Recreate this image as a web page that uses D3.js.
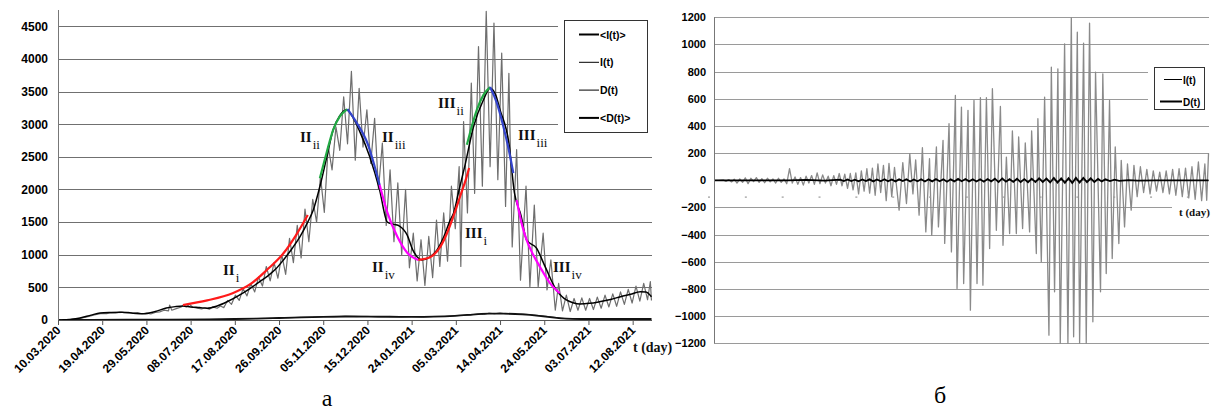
<!DOCTYPE html>
<html><head><meta charset="utf-8">
<script src="https://cdn.jsdelivr.net/npm/d3@7"></script>
<style>
html,body{margin:0;padding:0;background:#fff;}
svg{display:block;}
.ax text{font-family:"Liberation Sans",Arial,sans-serif;font-weight:bold;font-size:11.5px;fill:#000;}
.rn{font-family:"Liberation Serif","Times New Roman",serif;font-weight:bold;font-size:15px;fill:#111;}
.sub{font-family:"Liberation Serif","Times New Roman",serif;font-weight:normal;font-size:13px;fill:#111;}
.lg{font-family:"Liberation Sans",Arial,sans-serif;font-weight:bold;font-size:10.5px;fill:#000;}
</style></head><body>
<svg id="c" width="1219" height="410"></svg>
<script>
// ---------- DATA ----------
const dateLabels = ["10.03.2020","19.04.2020","29.05.2020","08.07.2020","17.08.2020","26.09.2020","05.11.2020","15.12.2020","24.01.2021","05.03.2021","14.04.2021","24.05.2021","03.07.2021","12.08.2021"];
const tickDays = [0,40,80,120,160,200,240,280,320,360,400,440,480,520];
const yTicksLeft = [0,500,1000,1500,2000,2500,3000,3500,4000,4500];
const yTicksRight = [-1200,-1000,-800,-600,-400,-200,0,200,400,600,800,1000,1200];

// day index (from 10.03.2020), value
const I_t = [[4,2],[8,6],[12,10],[16,18],[20,25],[24,38],[28,55],[32,75],[36,90],[40,102],[44,98],[48,112],[52,108],[56,120],[60,112],[64,118],[68,104],[72,112],[76,96],[80,105],[84,92],[88,115],[92,125],[96,150],[100,140],[101,230],[103,150],[107,175],[111,195],[114,225],[116,200],[119,240],[122,195],[126,180],[130,170],[133,190],[137,165],[140,200],[144,180],[147,215],[150,190],[153.5,300],[157,240],[160.5,380],[164,300],[167.5,480],[171,370],[174.5,560],[178,430],[181.5,660],[185,520],[188.5,820],[192,600],[195.5,880],[199,640],[202.5,1000],[206,700],[209.5,1250],[213,880],[216.5,1450],[220,950],[223.5,1700],[227,1200],[230.5,1850],[234,1500],[237.5,2200],[241,1650],[244.5,2660],[248,2300],[251.5,2960],[255,2600],[258.5,3420],[262,2700],[265.5,3810],[269,2450],[272.5,3550],[276,2650],[279.5,3220],[283,2400],[286.5,3090],[290,2000],[293.5,2710],[297,1450],[300.5,2300],[304,1200],[307.5,2100],[311,1000],[314.5,2000],[318,800],[321.5,1330],[325,600],[328.5,1230],[332,530],[335.5,1280],[339,650],[342.5,1530],[345.5,820],[349,1640],[352.5,900],[356,2050],[359.5,1400],[363,2350],[364.5,820],[367,3040],[370.5,1640],[374,3630],[377,1940],[380.5,4190],[384,2050],[387.5,4730],[391,2350],[394.5,4550],[398,2150],[401.5,4090],[405,1740],[408,3780],[411,1120],[415,2610],[418.5,610],[423.5,2050],[427,510],[431,1760],[434.5,510],[439,1330],[442.5,460],[446,920],[450,150],[453,560],[456.5,140],[460,380],[463.5,130],[467,330],[470.5,150],[474,340],[477.5,150],[481,330],[484.5,160],[488,350],[491.5,180],[495,380],[498.5,200],[502,400],[505.5,210],[509,430],[512.5,240],[516,470],[519.5,260],[523,520],[526.5,290],[530,560],[533.5,310],[536,590],[537,300]];

const I_avg = [[4,0],[10,8],[20,30],[30,75],[38,107],[48,115],[58,118],[68,105],[77,95],[88,130],[98,184],[106,205],[113,215],[120,200],[128,190],[135,180],[144,215],[153,280],[163,370],[174,486],[182,580],[189,665],[197,780],[204,920],[212,1100],[219,1278],[226,1500],[231,1687],[237,2045],[243,2480],[249,2914],[255,3130],[261,3220],[267,3100],[273,2890],[282,2505],[291,1994],[298,1500],[304,1465],[309,1440],[316,1300],[321,1074],[326,950],[329,920],[336,960],[343,1074],[349,1270],[355,1534],[358,1640],[363,2000],[368,2350],[376,2960],[385,3374],[391,3550],[396,3450],[400,3220],[408,2710],[413,1950],[419,1600],[424,1227],[433,1100],[441,810],[451,460],[456,360],[460,307],[466,265],[472,245],[481,255],[490,280],[500,315],[509,357],[518,395],[527,434],[532,430],[537,357]];

const D_t = [[0,0],[20,2],[40,4],[60,6],[80,5],[100,6],[120,5],[140,9],[150,10],[160,14],[170,20],[180,24],[190,26],[200,32],[210,35],[220,42],[230,44],[240,52],[250,50],[260,58],[270,52],[280,56],[290,48],[300,54],[310,46],[320,52],[330,45],[340,54],[350,55],[360,66],[370,72],[380,92],[385,84],[390,105],[395,96],[400,108],[405,94],[410,100],[415,88],[420,94],[430,78],[440,62],[450,40],[460,20],[470,15],[480,18],[500,14],[520,16],[537,14]];
const D_avg = [[0,0],[30,2],[60,5],[100,5],[140,8],[160,15],[180,22],[200,30],[220,40],[240,50],[260,55],[280,52],[300,50],[320,48],[340,50],[360,62],[375,85],[390,100],[405,98],[420,88],[435,65],[450,35],[460,18],[470,15],[500,15],[537,15]];

// fitted segments
const fitIIi   = [[113,230],[135,300],[158,410],[175,560],[189,767],[204,1022],[215,1290],[226,1610]];
const fitIIii  = [[237,2173],[243,2560],[249,2914],[255,3120],[262,3231]];
const fitIIiii = [[262,3231],[270,3030],[280,2710],[291,2070]];
const fitIIiv  = [[291,2070],[298,1650],[307,1278],[316,1030],[326,920]];
const fitIIIi  = [[326,920],[337,965],[346,1124],[352,1330],[358,1600],[364,1900],[369,2150],[372,2330]];
const fitIIIii = [[370,2684],[375,3000],[379,3220],[385,3450],[391,3569]];
const fitIIIiii= [[391,3569],[397,3330],[403,2965],[408,2600],[412,2250]];
const fitIIIiv = [[415,1840],[420,1450],[424,1227],[430,1000],[436,818],[445,570],[454,410]];

// right panel: residual oscillations
const R_I = [[0,0],[5,0],[10,3],[13,-8],[16,5],[19,-12],[22,8],[25,-20],[28,10],[31,-15],[34,18],[37,-25],[40,15],[43,-10],[46,20],[49,-15],[52,12],[55,-18],[58,15],[61,-12],[64,10],[67,-20],[70,15],[73,-15],[76,10],[79,-25],[82,86],[85,-20],[88,25],[91,-30],[94,20],[97,-35],[100,30],[103,-20],[106,35],[109,-30],[112,55],[115,-25],[118,40],[121,-20],[124,30],[127,-40],[130,35],[133,-30],[136,50],[139,-40],[142,45],[145,-60],[148,50],[151,-70],[154,55],[157,-100],[160,70],[163,-80],[166,85],[169,-95],[172,90],[175,-110],[178,120],[181,-90],[184,110],[187,-150],[190,125],[193,-120],[196,95],[201,-220],[205,130],[209,-171],[212.6,196],[216,-100],[219,150],[222.7,-257],[226.3,240],[230,-380],[234,159],[236.4,-404],[241.5,245],[243.7,-343],[248.7,294],[250.5,-465],[255.2,417],[257.8,-527],[262.1,625],[263.9,-797],[268.7,539],[271.1,-760],[275.8,515],[278.4,-956],[282.3,588],[285.6,-760],[289.3,608],[292,-772],[295.8,608],[299.3,-502],[302.3,674],[306.6,-368],[311,544],[313.8,-478],[317.5,171],[321,-392],[324,363],[328.3,-392],[330.8,319],[335.1,-355],[338,275],[342.7,-380],[344.9,363],[350,-539],[351.7,453],[355.4,-600],[359,613],[363.7,-1140],[366.3,833],[369.8,-821],[373.4,821],[376,-1200],[380.7,1005],[384.3,-1200],[388,1196],[390.5,-1152],[394.5,1090],[397,-1200],[401.3,1010],[404.2,-1200],[407.8,1157],[411.4,-1042],[414.3,797],[419.7,-821],[422.2,784],[425.9,-686],[429.5,588],[432.4,-576],[435.7,245],[439.6,-466],[442.2,147],[445.8,-343],[449,120],[453,-220],[456,110],[459.5,-120],[463,100],[466.5,-90],[470,80],[473.5,-100],[477,70],[480.5,-80],[484,60],[487.5,-90],[491,70],[494.5,-100],[498,80],[501.5,-110],[505,85],[508.5,-120],[512,90],[515.5,-130],[519,100],[522.5,-140],[526,135],[529.5,-150],[533,120],[535,-147],[537,200]];

const R_D = [[0,0],[80,0],[100,3],[120,-3],[137,5],[141,-5],[145,6],[149,-6],[153,5],[157,-7],[161,6],[165,-6],[169,7],[173,-8],[177,6],[181,-7],[185,8],[189,-7],[193,6],[197,-8],[201,7],[205,-6],[209,8],[213,-9],[217,6],[221,-7],[225,8],[229,-9],[233,7],[237,-8],[241,9],[245,-7],[249,8],[253,-10],[257,7],[261,-8],[265,10],[269,-7],[273,9],[277,-8],[281,7],[285,-9],[289,8],[293,-10],[297,9],[301,-8],[305,12],[309,-13],[313,14],[317,-10],[321,8],[325,-12],[329,11],[333,-13],[337,9],[341,-14],[345,12],[349,-13],[353,15],[357,-12],[361,13],[365,-16],[369,18],[373,-17],[377,14],[381,-18],[385,16],[389,-20],[393,18],[397,-16],[401,17],[405,-14],[409,15],[413,-12],[417,10],[421,-8],[425,7],[430,-6],[435,5],[440,-4],[450,2],[460,-2],[480,0],[537,0]];

// ---------- DRAW ----------
const svg = d3.select("#c");
const xL = d3.scaleLinear().domain([0,537.5]).range([58,652]);
const yL = d3.scaleLinear().domain([0,4750]).range([320,10]);
const xR = d3.scaleLinear().domain([0,537.5]).range([714,1209]);
const yR = d3.scaleLinear().domain([-1200,1200]).range([343.3,17.3]);

const lineL = d3.line().x(d=>xL(d[0])).y(d=>yL(d[1]));
const lineR = d3.line().x(d=>xR(d[0])).y(d=>yR(d[1]));

// left gridlines
svg.append("g").selectAll("line").data(yTicksLeft.filter(v=>v>0)).join("line")
  .attr("x1",xL(0)).attr("x2",652).attr("y1",d=>Math.round(yL(d))+0.5).attr("y2",d=>Math.round(yL(d))+0.5)
  .attr("stroke","#707070").attr("stroke-width",1);
// right gridlines
svg.append("g").selectAll("line").data(yTicksRight).join("line")
  .attr("x1",714).attr("x2",1209).attr("y1",d=>Math.round(yR(d))+0.5).attr("y2",d=>Math.round(yR(d))+0.5)
  .attr("stroke","#9a9a9a").attr("stroke-width",1.2);

// left data
svg.append("path").datum(D_t).attr("d",lineL).attr("fill","none").attr("stroke","#555").attr("stroke-width",1);
svg.append("path").datum(I_t).attr("d",lineL).attr("fill","none").attr("stroke","#6e6e6e").attr("stroke-width",1.2).attr("stroke-linejoin","round");
svg.append("path").datum(D_avg).attr("d",d3.line().x(d=>xL(d[0])).y(d=>yL(d[1])).curve(d3.curveBasis)).attr("fill","none").attr("stroke","#111").attr("stroke-width",1.8);
svg.append("path").datum(I_avg).attr("d",d3.line().x(d=>xL(d[0])).y(d=>yL(d[1])).curve(d3.curveMonotoneX)).attr("fill","none").attr("stroke","#000").attr("stroke-width",1.5);

const fits = [[fitIIi,"#ff1a1a"],[fitIIii,"#22aa44"],[fitIIiii,"#3344cc"],[fitIIiv,"#ff00ff"],[fitIIIi,"#ff1a1a"],[fitIIIii,"#22aa44"],[fitIIIiii,"#3344cc"],[fitIIIiv,"#ff00ff"]];
const fitLine = d3.line().x(d=>xL(d[0])).y(d=>yL(d[1])).curve(d3.curveMonotoneX);
fits.forEach(([data,col])=>{
  svg.append("path").datum(data).attr("d",fitLine).attr("fill","none").attr("stroke",col).attr("stroke-width",2.2);
});

// left axes
const gxL = svg.append("g").attr("class","ax").attr("transform","translate(0,320)")
  .call(d3.axisBottom(xL).tickValues(tickDays).tickFormat((d,i)=>dateLabels[i]).tickSize(5).tickSizeOuter(0));
gxL.select(".domain").attr("stroke","#555").attr("d","M58,0.5H652");
gxL.selectAll(".tick line").attr("stroke","#555");
gxL.selectAll(".tick text").attr("text-anchor","end").attr("dy",null).attr("y",null)
  .style("font-size","12px")
  .attr("transform","translate(3,11) rotate(-45)");
const gyL = svg.append("g").attr("class","ax").attr("transform","translate(58,0)")
  .call(d3.axisLeft(yL).tickValues(yTicksLeft).tickFormat(d3.format("d")).tickSize(0).tickPadding(10));
gyL.select(".domain").attr("stroke","#777").attr("d","M0.5,10V320");
gyL.selectAll("text").style("font-size","12px");

// left legend
const lgL = svg.append("g");
lgL.append("rect").attr("x",558).attr("y",14).attr("width",96).attr("height",126).attr("fill","#fff");
lgL.append("rect").attr("x",564.5).attr("y",20.5).attr("width",83).attr("height",112).attr("fill","#fff").attr("stroke","#333").attr("stroke-width",1);
const legL = [["<I(t)>",2],["I(t)",1],["D(t)",1],["<D(t)>",2]];
legL.forEach((d,i)=>{
  const y = 34.5 + i*27.8;
  lgL.append("line").attr("x1",579).attr("x2",599).attr("y1",y).attr("y2",y).attr("stroke","#000").attr("stroke-width",d[1]);
  lgL.append("text").attr("class","lg").attr("x",600).attr("y",y+4).text(d[0]);
});

// roman labels
const romans = [["II","i",223,275],["II","ii",300,142],["II","iii",382,142],["II","iv",372,272],["III","ii",438,108],["III","iii",518,140],["III","i",465,238],["III","iv",553,272]];
romans.forEach(([m,s,x,y])=>{
  const t = svg.append("text").attr("class","rn").attr("x",x).attr("y",y);
  t.append("tspan").text(m);
  t.append("tspan").attr("class","sub").attr("dy",7).attr("dx",1).text(s);
});
svg.append("text").attr("class","rn").attr("x",633).attr("y",352).style("font-size","14px").text("t (day)");
svg.append("text").attr("x",327).attr("y",406).attr("text-anchor","middle")
  .style("font-family","Liberation Serif,serif").style("font-size","24px").text("а");

// right data
svg.append("rect").attr("x",1172).attr("y",200).attr("width",42).attr("height",18).attr("fill","#fff");
svg.append("path").datum(R_I).attr("d",lineR).attr("fill","none").attr("stroke","#8a8a8a").attr("stroke-width",1.3).attr("stroke-linejoin","round");
svg.append("path").datum(R_D).attr("d",lineR).attr("fill","none").attr("stroke","#000").attr("stroke-width",1.8);
// tiny category marks
svg.append("g").selectAll("rect").data(tickDays).join("rect")
  .attr("x",d=>xR(d)-6).attr("y",196.5).attr("width",2).attr("height",1.2).attr("fill","#999");

const gyR = svg.append("g").attr("class","ax").attr("transform","translate(714,0)")
  .call(d3.axisLeft(yR).tickValues(yTicksRight).tickFormat(d3.format("d")).tickSize(0).tickPadding(8));
gyR.select(".domain").attr("stroke","#777").attr("d","M0.5,17.3V343.3");
gyR.selectAll("text").style("font-size","11px");
svg.append("text").attr("class","rn").attr("x",1179).attr("y",216).style("font-size","11px").text("t (day)");

// right legend
const lgR = svg.append("g");
lgR.append("rect").attr("x",1148).attr("y",62).attr("width",62).attr("height",54).attr("fill","#fff");
lgR.append("rect").attr("x",1154.5).attr("y",67.5).attr("width",50).attr("height",42).attr("fill","#fff").attr("stroke","#333");
[["I(t)",1,79.5],["D(t)",2,101.5]].forEach(d=>{
  lgR.append("line").attr("x1",d[1]===1?1164:1160).attr("x2",1182).attr("y1",d[2]).attr("y2",d[2]).attr("stroke","#000").attr("stroke-width",d[1]);
  lgR.append("text").attr("class","lg").attr("x",1183).attr("y",d[2]+4).style("font-size","10px").text(d[0]);
});
svg.append("text").attr("x",940).attr("y",403).attr("text-anchor","middle")
  .style("font-family","Liberation Serif,serif").style("font-size","24px").text("б");
</script>
</body></html>
